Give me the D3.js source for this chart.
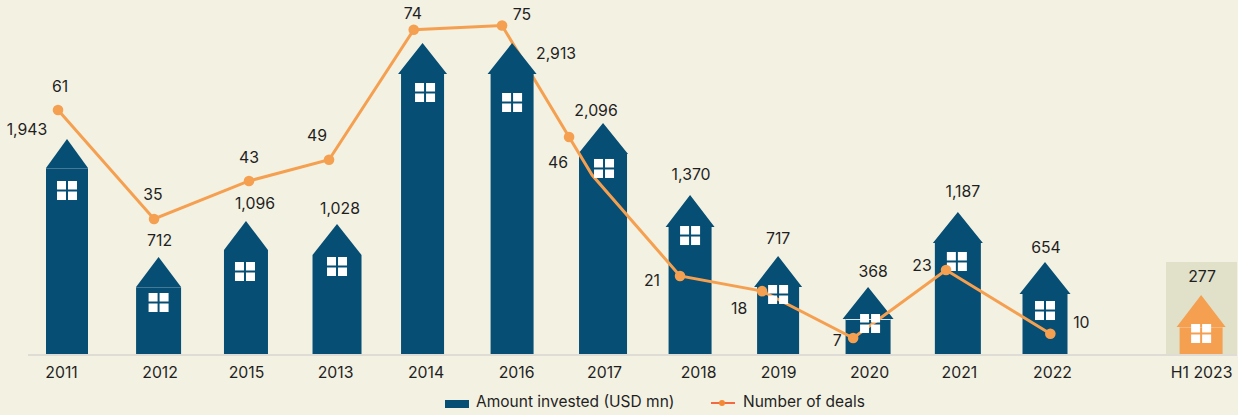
<!DOCTYPE html>
<html>
<head>
<meta charset="utf-8">
<script src="https://cdn.jsdelivr.net/npm/d3@7"></script>
<style>
html, body { margin: 0; padding: 0; background: #F3F1E2; }
svg { display: block; }
text { font-family: Inter, "Noto Sans", sans-serif; fill: #1f1f1f; }
</style>
</head>
<body>
<svg width="1238" height="415"></svg>
<script>
var years = ['2011', '2012', '2015', '2013', '2014', '2016', '2017', '2018', '2019', '2020', '2021', '2022', 'H1 2023'];

// printed labels, 2014 has none in the source
var amounts = [1943, 712, 1096, 1028, null, 2913, 2096, 1370, 717, 368, 1187, 654, 277];
var deals = [61, 35, 43, 49, 74, 75, 46, 21, 18, 7, 23, 10];

// the source is hand drawn, heights do not follow the labels exactly. these are read off the marks
var amountsDrawn = [1935, 697, 1082, 1030, 2913, 2913, 2081, 1321, 697, 364, 1155, 624, 281];
var dealsDrawn = [61, 35.2, 44.2, 49.2, 80, 81, 54.6, 21.7, 18.1, 7, 23.1, 8];

// position along the axis in year slots
var houseSlots = [0, 1.03, 2.013, 3.037, 3.999, 5.006, 6.029, 7.008, 7.998, 9.01, 10.02, 11, 12.756];
var dealSlots = [-0.101, 0.979, 2.047, 2.947, 3.9, 4.893, 5.647, 6.895, 7.818, 8.842, 9.887, 11.06];

// the deals line has one extra bend after 2017
var bendSlot = 5.906;
var bendValue = 45.6;

// layout only
var bodyW = [42, 45, 44, 49, 43, 43, 48, 43, 42, 45, 46, 45, 43];
var roofH = [29, 30, 29, 31, 31, 31, 31, 32, 31, 32, 31, 32, 32];
var eaveOut = [0, 0, 0, 0, 3, 3, 1, 3, 3, 3, 2, 3, 3];
var seamOpacity = [0.25, 0.25, 0, 0, 0, 0, 0, 0, 0, 0.85, 0, 0, 0.25];
var windowDrop = [13, 6, 12, 2, 9, 19, 5, -1, -2, -5, 9, 7, -3];
var windowDx = [0, 0, -1, 0, 2.5, 0, 1, 0, 0, 2, -1, 0, 0];
var amountOffset = [[-40, -4], [1, -11], [9, -12], [3, -10], [0, 0], [44, 16], [-7, -7], [1, -15], [0, -12], [5, -10], [5, -15], [1, -9], [1, -13]];
var dealOffset = [[2, -18], [-1, -19], [0, -18], [-12, -19], [-1, -11], [20, -6], [-11, 31], [-28, 10], [-23, 23], [-16, 8], [-24, 1], [31, -6]];
var tickNudge = [-6, 1, 0, -2, 3, 4, 1, 8, 0, 1, 1, 7, 0];

var navy = '#064E74';
var orange = '#F5A050';
var labelSize = 15.8;

var svg = d3.select('svg');

var x = d3.scaleLinear().domain([0, 11]).range([67, 1045]);
var yAmount = d3.scaleLinear().domain([0, 2913]).range([354, 74]);
var yDeals = d3.scaleLinear().domain([7, 61]).range([338, 110]);
var fmt = d3.format(',');

var houses = years.map(function(year, i) {
    return {
        year: year,
        i: i,
        cx: x(houseSlots[i]),
        eave: yAmount(amountsDrawn[i]),
        color: year === 'H1 2023' ? orange : navy
    };
});

// highlight panel behind the half year
svg.append('rect')
    .attr('x', 1166)
    .attr('y', 262)
    .attr('width', 71)
    .attr('height', 92)
    .attr('fill', '#E1E0C9');

function housePath(d) {
    var hw = bodyW[d.i] / 2;
    var rw = hw + eaveOut[d.i];
    var base = yAmount(0);
    var p = d3.path();
    p.moveTo(d.cx - hw, base);
    p.lineTo(d.cx - hw, d.eave);
    p.lineTo(d.cx - rw, d.eave);
    p.lineTo(d.cx, d.eave - roofH[d.i]);
    p.lineTo(d.cx + rw, d.eave);
    p.lineTo(d.cx + hw, d.eave);
    p.lineTo(d.cx + hw, base);
    p.closePath();
    return p.toString();
}

function drawHouses(list) {
    svg.append('g').selectAll('path')
        .data(list)
        .enter()
        .append('path')
        .attr('d', housePath)
        .attr('fill', function(d) { return d.color; });
    // thin light seam under the roof
    svg.append('g').selectAll('line')
        .data(list)
        .enter()
        .append('line')
        .attr('x1', function(d) { return d.cx - bodyW[d.i] / 2; })
        .attr('x2', function(d) { return d.cx + bodyW[d.i] / 2; })
        .attr('y1', function(d) { return d.eave + 0.5; })
        .attr('y2', function(d) { return d.eave + 0.5; })
        .attr('stroke', '#fff')
        .attr('stroke-opacity', function(d) { return seamOpacity[d.i]; });
}

function drawWindows(list) {
    var g = svg.append('g');
    list.forEach(function(d) {
        var wx = d.cx - 10 + windowDx[d.i];
        var wy = d.eave + windowDrop[d.i];
        [[0, 0], [11, 0], [0, 10.5], [11, 10.5]].forEach(function(pane) {
            g.append('rect')
                .attr('x', wx + pane[0])
                .attr('y', wy + pane[1])
                .attr('width', 9)
                .attr('height', 8.5)
                .attr('fill', '#fff');
        });
    });
}

function isBehindLine(d) { return d.year !== '2016'; }
function isWindowOnTop(d) { return d.year !== '2021'; }

// baseline
svg.append('line')
    .attr('x1', 28)
    .attr('x2', 1237)
    .attr('y1', 355)
    .attr('y2', 355)
    .attr('stroke', '#DEDCD5')
    .attr('stroke-width', 2);

drawHouses(houses.filter(isBehindLine));
drawWindows(houses.filter(function(d) { return !isWindowOnTop(d); }));

// deals line
var points = deals.map(function(v, i) {
    return {x: x(dealSlots[i]), y: yDeals(dealsDrawn[i]), label: v, i: i};
});
var linePoints = points.slice();
linePoints.splice(7, 0, {x: x(bendSlot), y: yDeals(bendValue)});

svg.append('path')
    .datum(linePoints)
    .attr('fill', 'none')
    .attr('stroke', orange)
    .attr('stroke-width', 3)
    .attr('d', d3.line()
        .x(function(d) { return d.x; })
        .y(function(d) { return d.y; }));

svg.append('g').selectAll('circle')
    .data(points)
    .enter()
    .append('circle')
    .attr('cx', function(d) { return d.x; })
    .attr('cy', function(d) { return d.y; })
    .attr('r', 5.3)
    .attr('fill', orange);

// 2016 house hides the line
drawHouses(houses.filter(function(d) { return !isBehindLine(d); }));
drawWindows(houses.filter(isWindowOnTop));

// amount labels
svg.append('g').selectAll('text')
    .data(houses.filter(function(d) { return amounts[d.i] !== null; }))
    .enter()
    .append('text')
    .attr('x', function(d) { return d.cx + amountOffset[d.i][0]; })
    .attr('y', function(d) { return d.eave - roofH[d.i] + amountOffset[d.i][1]; })
    .attr('text-anchor', 'middle')
    .attr('font-size', labelSize)
    .text(function(d) { return fmt(amounts[d.i]); });

// deal labels
svg.append('g').selectAll('text')
    .data(points)
    .enter()
    .append('text')
    .attr('x', function(d) { return d.x + dealOffset[d.i][0]; })
    .attr('y', function(d) { return d.y + dealOffset[d.i][1]; })
    .attr('text-anchor', 'middle')
    .attr('font-size', labelSize)
    .text(function(d) { return d.label; });

// year axis
var axis = d3.axisBottom(x)
    .tickValues(houseSlots)
    .tickSize(0)
    .tickPadding(12)
    .tickFormat(function(d, i) { return years[i]; });

var axisG = svg.append('g')
    .attr('transform', 'translate(0,' + 355 + ')')
    .call(axis);
axisG.select('.domain').remove();
axisG.selectAll('text')
    .attr('font-size', 15.8)
    .attr('dx', function(d, i) { return tickNudge[i]; })
    .style('fill', '#1f1f1f');
axisG.attr('font-family', null);

// legend
var legend = svg.append('g');
legend.append('rect')
    .attr('x', 445)
    .attr('y', 400)
    .attr('width', 24)
    .attr('height', 8)
    .attr('fill', navy);
legend.append('text')
    .attr('x', 476)
    .attr('y', 407)
    .attr('font-size', 15.5)
    .text('Amount invested (USD mn)');
legend.append('line')
    .attr('x1', 711)
    .attr('x2', 735)
    .attr('y1', 403)
    .attr('y2', 403)
    .attr('stroke', '#F4693F')
    .attr('stroke-width', 2);
legend.append('circle')
    .attr('cx', 722)
    .attr('cy', 403)
    .attr('r', 3)
    .attr('fill', '#F28A35');
legend.append('text')
    .attr('x', 743)
    .attr('y', 407)
    .attr('font-size', 15.5)
    .text('Number of deals');
</script>
</body>
</html>
